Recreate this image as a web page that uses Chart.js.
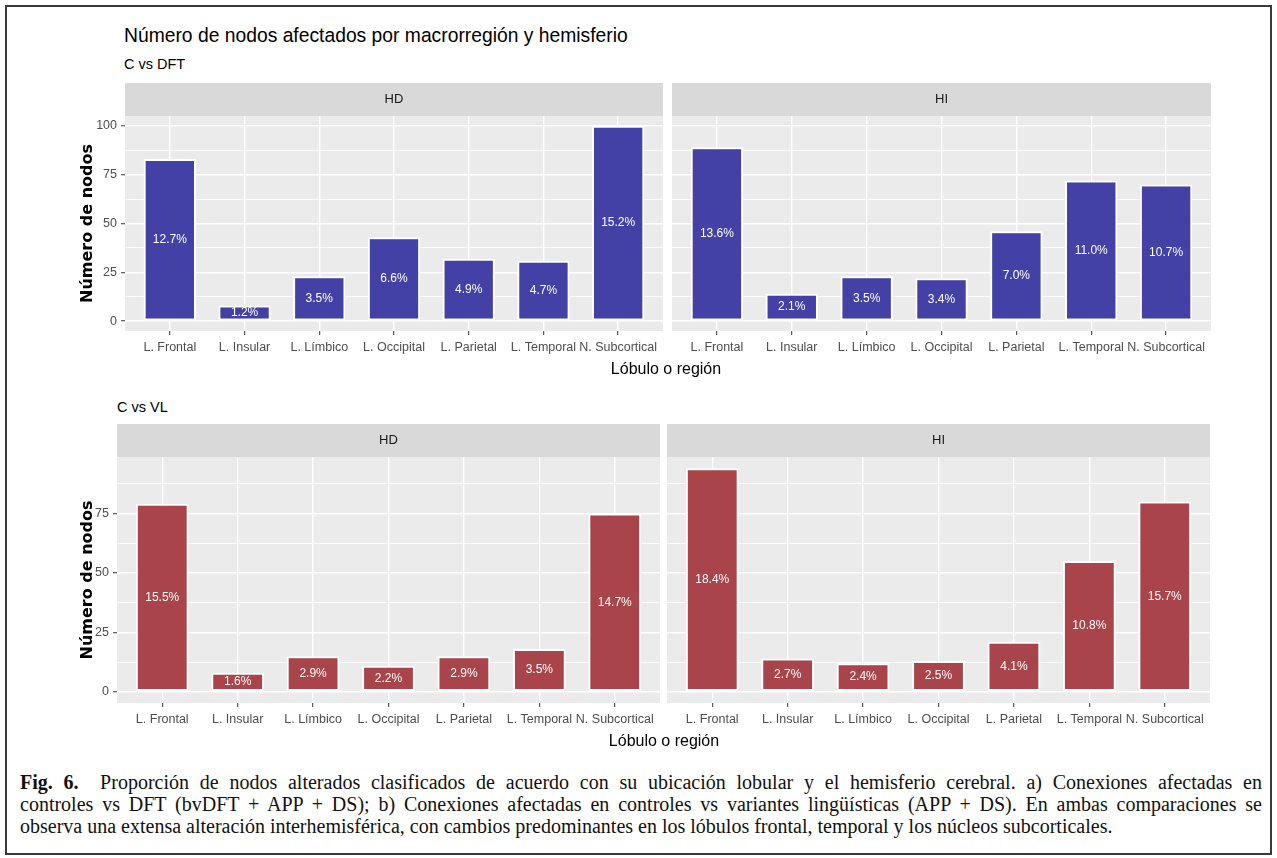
<!DOCTYPE html>
<html>
<head>
<meta charset="utf-8">
<script src="https://cdn.jsdelivr.net/npm/chart.js@4.4.0/dist/chart.umd.min.js"></script>
<style>
    body { margin: 0; background: #fff; width: 1277px; height: 858px; position: relative; overflow: hidden;
           font-family: "Liberation Sans", Arial, sans-serif; }
    .frame { position: absolute; left: 5px; top: 5px; width: 1267px; height: 850px; border: 2px solid #3a3a3a; box-sizing: border-box; }
    .t { position: absolute; white-space: nowrap; color: #000; }
    .xt { transform: translateX(-50%); font-size: 16px; line-height: 20px; }
    canvas { position: absolute; }
    .cap { position: absolute; left: 20px; width: 1242px; font-family: "Liberation Serif", "Times New Roman", serif;
           font-size: 20px; line-height: 22px; color: #111; white-space: nowrap; }
    .j { text-align: justify; text-align-last: justify; }
</style>
</head>
<body>
<div class="frame"></div>

<div class="t" style="left:124px; top:24px; font-size:19.3px; line-height:24px;">Número de nodos afectados por macrorregión y hemisferio</div>
<div class="t" style="left:124px; top:55px; font-size:14.5px; line-height:18px;">C vs DFT</div>
<div class="t" style="left:117px; top:398px; font-size:14.5px; line-height:18px;">C vs VL</div>

<canvas id="dft-hd" width="585" height="278" style="left:78px; top:83px; width:585px; height:278px;"></canvas>
<canvas id="dft-hi" width="539" height="278" style="left:672px; top:83px; width:539px; height:278px;"></canvas>
<canvas id="vl-hd" width="582" height="309" style="left:78px; top:424px; width:582px; height:309px;"></canvas>
<canvas id="vl-hi" width="543" height="309" style="left:667px; top:424px; width:543px; height:309px;"></canvas>

<div class="t xt" style="left:666px; top:359px;">Lóbulo o región</div>
<div class="t xt" style="left:664px; top:731px;">Lóbulo o región</div>

<div class="cap j" style="top:771px;"><b>Fig. 6.</b>&nbsp; Proporción de nodos alterados clasificados de acuerdo con su ubicación lobular y el hemisferio cerebral. a) Conexiones afectadas en</div>
<div class="cap j" style="top:793px;">controles vs DFT (bvDFT + APP + DS); b) Conexiones afectadas en controles vs variantes lingüísticas (APP + DS). En ambas comparaciones se</div>
<div class="cap" style="top:815px;">observa una extensa alteración interhemisférica, con cambios predominantes en los lóbulos frontal, temporal y los núcleos subcorticales.</div>

<script>
// ==========================================
// DATA
// ==========================================
const categories = ['L. Frontal', 'L. Insular', 'L. Límbico', 'L. Occipital', 'L. Parietal', 'L. Temporal', 'N. Subcortical'];

// C vs DFT
const dftHD = [83, 8, 23, 43, 32, 31, 100];
const dftHDPct = ['12.7%', '1.2%', '3.5%', '6.6%', '4.9%', '4.7%', '15.2%'];
const dftHI = [89, 14, 23, 22, 46, 72, 70];
const dftHIPct = ['13.6%', '2.1%', '3.5%', '3.4%', '7.0%', '11.0%', '10.7%'];

// C vs VL
const vlHD = [79, 8, 15, 11, 15, 18, 75];
const vlHDPct = ['15.5%', '1.6%', '2.9%', '2.2%', '2.9%', '3.5%', '14.7%'];
const vlHI = [94, 14, 12, 13, 21, 55, 80];
const vlHIPct = ['18.4%', '2.7%', '2.4%', '2.5%', '4.1%', '10.8%', '15.7%'];

const yMajorStep = 25;

const FONT = '"Liberation Sans", Arial, sans-serif';
const BLUE = '#4341a6';
const RED = '#a8444a';

// ==========================================
// PLUGINS: panel background, strip and % labels
// ==========================================
const panelBg = {
    id: 'panelBg',
    beforeDraw(chart) {
        const { ctx, chartArea } = chart;
        const strip = chart.titleBlock;
        ctx.save();
        ctx.fillStyle = '#ebebeb';
        ctx.fillRect(chartArea.left, chartArea.top, chartArea.width, chartArea.height);
        if (strip) {
            ctx.fillStyle = '#d9d9d9';
            ctx.fillRect(strip.left, strip.top, strip.width, strip.height);
        }
        ctx.restore();
    }
};

function pctLabels(pcts) {
    return {
        id: 'pctLabels',
        afterDatasetsDraw(chart) {
            const ctx = chart.ctx;
            ctx.save();
            ctx.fillStyle = '#ffffff';
            ctx.font = '12px ' + FONT;
            ctx.textAlign = 'center';
            ctx.textBaseline = 'middle';
            chart.getDatasetMeta(0).data.forEach((bar, i) => {
                ctx.fillText(pcts[i], bar.x, (bar.y + bar.base) / 2);
            });
            ctx.restore();
        }
    };
}

// ==========================================
// ONE FACET PANEL
// ==========================================
function drawPanel(canvasId, stripText, values, pcts, color, rowMax, yAxisWidth) {
    const showY = yAxisWidth > 0;
    const isMajor = v => v % yMajorStep === 0;

    return new Chart(document.getElementById(canvasId), {
        type: 'bar',
        data: {
            datasets: [{
                data: values.map((v, i) => ({ x: i + 1, y: v })),
                backgroundColor: color,
                borderColor: '#ffffff',
                borderWidth: 2,
                borderSkipped: false,
                categoryPercentage: 0.7,
                barPercentage: 1
            }]
        },
        options: {
            responsive: false,
            animation: false,
            devicePixelRatio: 1,
            layout: { padding: 0 },
            plugins: {
                legend: { display: false },
                tooltip: { enabled: false },
                title: {
                    display: true, text: stripText, fullSize: false, color: '#1a1a1a',
                    font: { family: FONT, size: 13, weight: 'normal' },
                    padding: { top: 8.7, bottom: 8.7 }
                }
            },
            scales: {
                x: {
                    type: 'linear', min: 0.4, max: 7.6, offset: false,
                    afterBuildTicks: s => { s.ticks = categories.map((c, i) => ({ value: i + 1 })); },
                    afterFit: s => { s.height = 30; },
                    grid: { color: '#ffffff', lineWidth: 1.4, offset: false, tickLength: 4, tickWidth: 1, tickColor: '#333333' },
                    border: { display: false },
                    ticks: {
                        autoSkip: false, maxRotation: 0, padding: 5, color: '#4d4d4d',
                        font: { family: FONT, size: 12.5 },
                        callback: v => categories[v - 1] || ''
                    }
                },
                y: {
                    min: -0.05 * rowMax, max: 1.05 * rowMax,
                    afterBuildTicks: s => {
                        const t = [];
                        for (let v = 0; v <= s.max; v += yMajorStep / 2) t.push({ value: v });
                        s.ticks = t;
                    },
                    afterFit: s => { s.width = yAxisWidth; },
                    grid: {
                        color: '#ffffff',
                        lineWidth: c => isMajor(c.tick.value) ? 1.5 : 0.8,
                        drawTicks: showY, tickLength: 4, tickWidth: 1,
                        tickColor: c => isMajor(c.tick.value) ? '#333333' : 'rgba(0,0,0,0)'
                    },
                    border: { display: false },
                    ticks: {
                        display: showY, autoSkip: false, padding: 4, color: '#4d4d4d',
                        font: { family: FONT, size: 12.5 },
                        callback: v => isMajor(v) ? String(v) : ''
                    },
                    title: {
                        display: showY, text: 'Número de nodos', color: '#000000', padding: 0,
                        font: { family: '"DejaVu Sans", sans-serif', size: 16, weight: 'bold' }
                    }
                }
            }
        },
        plugins: [panelBg, pctLabels(pcts)]
    });
}

const dftMax = Math.max(...dftHD, ...dftHI);
const vlMax = Math.max(...vlHD, ...vlHI);

drawPanel('dft-hd', 'HD', dftHD, dftHDPct, BLUE, dftMax, 47);
drawPanel('dft-hi', 'HI', dftHI, dftHIPct, BLUE, dftMax, 0);
drawPanel('vl-hd', 'HD', vlHD, vlHDPct, RED, vlMax, 39);
drawPanel('vl-hi', 'HI', vlHI, vlHIPct, RED, vlMax, 0);
</script>
</body>
</html>
